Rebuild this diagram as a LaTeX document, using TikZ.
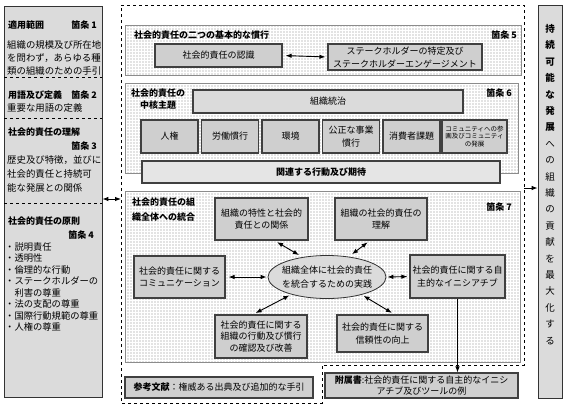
\documentclass[tikz,border=0pt]{standalone}
\usepackage{fontspec}
\setmainfont{Noto Sans CJK JP}
\usetikzlibrary{arrows.meta,shapes.geometric,patterns}

\begin{document}
\begin{tikzpicture}[x=1pt,y=-1pt,
	every node/.style={font=\fontsize{9}{11}\selectfont, inner sep=1pt},
	colbox/.style={draw=black!80, line width=0.7pt, fill=black!14},
	secbox/.style={draw=black!45, line width=1pt, preaction={fill=black!11}, pattern=grid, pattern color=white},
	itembox/.style={draw=black!75, line width=1.1pt, fill=black!19, align=center, font=\fontsize{9}{12.5}\selectfont},
	sep/.style={dashed, line width=0.8pt},
	dbl/.style={{Latex[length=6pt,width=4.5pt]}-{Latex[length=6pt,width=4.5pt]}, line width=0.9pt},
	one/.style={-{Latex[length=6pt,width=4.5pt]}, line width=0.9pt},
	ttl/.style={font=\fontsize{9}{11}\selectfont\bfseries}]
	\useasboundingbox (0,0) rectangle (567,408);

	% Left column
	\node[colbox, minimum width=98pt, minimum height=391pt] (leftcol) at (53,201.5) {};
	\foreach \y in {77,118,203}
		\draw[sep] (4,\y) -- (102,\y);
	\node[ttl, anchor=west] (tekiyou) at (7,25) {適用範囲};
	\node[ttl, anchor=east] at (98,25) {箇条 1};
	\node[anchor=west, align=left, font=\fontsize{9.4}{13}\selectfont] at (6,58) {組織の規模及び所在地\\を問わず，あらゆる種\\類の組織のための手引};
	\node[ttl, anchor=west] (yougo) at (7,95) {用語及び定義};
	\node[ttl, anchor=east] at (98,95) {箇条 2};
	\node[anchor=west, font=\fontsize{9.4}{13}\selectfont] at (6,108) {重要な用語の定義};
	\node[ttl, anchor=west] (rikaiL) at (7,132) {社会的責任の理解};
	\node[ttl, anchor=east] at (98,146) {箇条 3};
	\node[anchor=west, align=left, font=\fontsize{9.4}{14}\selectfont] at (6,174) {歴史及び特徴，並びに\\社会的責任と持続可\\能な発展との関係};
	\node[ttl, anchor=west] (gensoku) at (7,221) {社会的責任の原則};
	\node[ttl, anchor=east] at (95,235) {箇条 4};
	\node[anchor=west, align=left, font=\fontsize{9.3}{11.45}\selectfont] at (4,287) {・説明責任\\・透明性\\・倫理的な行動\\・ステークホルダーの\\　利害の尊重\\・法の支配の尊重\\・国際行動規範の尊重\\・人権の尊重};

	% Right column
	\node[colbox, minimum width=24pt, minimum height=393pt] (rightcol) at (550,201.5) {};
	\node[align=center, font=\fontsize{9.5}{16.4}\selectfont] (kouken) at (550,184.5) {\textbf{持}\\\textbf{続}\\\textbf{可}\\\textbf{能}\\\textbf{な}\\\textbf{発}\\\textbf{展}\\へ\\の\\組\\織\\の\\貢\\献\\を\\最\\大\\化\\す\\る};

	% Dashed frame
	\draw[sep] (121,5) -- (524,5) -- (524,365) -- (322,365) -- (322,403) -- (121,403) -- cycle;
	\coordinate (frameL) at (121,199);
	\coordinate (frameR) at (524,188);
	\draw[dbl] (leftcol.east |- frameL) -- (frameL);
	\draw[one] (frameR) -- (rightcol.west |- frameR);

	% Clause 5
	\draw[secbox] (125,25) rectangle (521,75);
	\node[ttl, anchor=west] at (133,35) {社会的責任の二つの基本的な慣行};
	\node[ttl, anchor=east] at (518,35) {箇条 5};
	\node[itembox, minimum width=127pt, minimum height=23pt] (ninshiki) at (218.5,55.5) {社会的責任の認識};
	\node[itembox, minimum width=154pt, minimum height=26pt, font=\fontsize{9}{13}\selectfont] (stake) at (405,57) {ステークホルダーの特定及び\\ステークホルダーエンゲージメント};
	\draw[dbl, shorten <=3pt, shorten >=2pt] (ninshiki.east) -- (stake.west);

	% Clause 6
	\draw[secbox] (125,83) rectangle (518,173);
	\node[align=center, font=\fontsize{9}{12}\selectfont\bfseries] at (158,99) {社会的責任の\\中核主題};
	\node[ttl, anchor=east] at (513,93) {箇条 6};
	\node[itembox, fill=black!14, minimum width=270pt, minimum height=23pt] (tochi) at (328,101.5) {組織統治};
	\foreach \n/\x/\txt in {jinken/169.5/人権, roudou/230/労働慣行, kankyo/290.5/環境, kousei/351/公正な事業\\慣行, shouhi/411.5/消費者課題}
		\node[itembox, minimum width=57pt, minimum height=33pt] (\n) at (\x,136.5) {\txt};
	\node[itembox, minimum width=65pt, minimum height=33pt, font=\fontsize{6.5}{7.8}\selectfont] (komyu) at (474.5,136.5) {コミュニティへの参\\画及びコミュニティ\\の発展};
	\node[itembox, fill=black!10, minimum width=358pt, minimum height=22pt, font=\fontsize{9}{11}\selectfont\bfseries] (kanren) at (321,172) {関連する行動及び期待};

	% Clause 7
	\draw[secbox] (125,191) rectangle (520,362);
	\node[anchor=west, align=left, font=\fontsize{9}{15}\selectfont\bfseries] at (131,209.5) {社会的責任の組\\織全体への統合};
	\node[ttl, anchor=east] at (513,207) {箇条 7};
	\node[itembox, minimum width=93pt, minimum height=42pt] (tokusei) at (261.5,219) {組織の特性と社会的\\責任との関係};
	\node[itembox, minimum width=92pt, minimum height=42pt] (rikai) at (381,219) {組織の社会的責任の\\理解};
	\node[itembox, minimum width=91pt, minimum height=42pt] (comm) at (179.5,277) {社会的責任に関する\\コミュニケーション};
	\node[ellipse, draw=black!80, line width=0.8pt, fill=black!14, minimum width=118pt, minimum height=43pt, inner xsep=-4pt, inner ysep=0pt, align=center, font=\fontsize{9}{13.5}\selectfont] (jissen) at (327,277) {組織全体に社会的責任\\を統合するための実践};
	\node[itembox, minimum width=95pt, minimum height=43pt] (jishu) at (457.5,276.5) {社会的責任に関する自\\主的なイニシアチブ};
	\node[itembox, minimum width=92pt, minimum height=43pt, font=\fontsize{9}{11.7}\selectfont] (kakunin) at (261,336.5) {社会的責任に関する\\組織の行動及び慣行\\の確認及び改善};
	\node[itembox, minimum width=91pt, minimum height=37pt] (shinrai) at (382.5,333.5) {社会的責任に関する\\信頼性の向上};
	\draw[dbl, shorten <=3pt, shorten >=4pt] ([xshift=13pt]tokusei.south) -- (jissen.141);
	\draw[dbl, shorten <=3pt, shorten >=4pt] ([xshift=-11pt]rikai.south) -- (jissen.43);
	\draw[dbl, shorten <=3pt, shorten >=1pt] (comm.east) -- (jissen.west);
	\draw[dbl, shorten <=1pt, shorten >=2pt] (jissen.east) -- (jishu.west);
	\draw[dbl, shorten <=3pt, shorten >=2pt] ([xshift=-8pt]kakunin.north) -- (jissen.206);
	\draw[dbl, shorten <=3pt, shorten >=2pt] ([xshift=12pt]shinrai.north) -- (jissen.-27);

	% Bottom
	\node[itembox, minimum width=188pt, minimum height=21pt] (sankou) at (219,387.5) {\textbf{参考文献}：権威ある出典及び追加的な手引};
	\node[itembox, minimum width=193pt, minimum height=25pt, font=\fontsize{9}{11.7}\selectfont] (fuzokusho) at (421.5,385.5) {\textbf{附属書}:社会的責任に関する自主的なイニシ\\アチブ及びツールの例};
	\draw[one] (jishu.south) -- (jishu.south |- fuzokusho.north);
\end{tikzpicture}
\end{document}
